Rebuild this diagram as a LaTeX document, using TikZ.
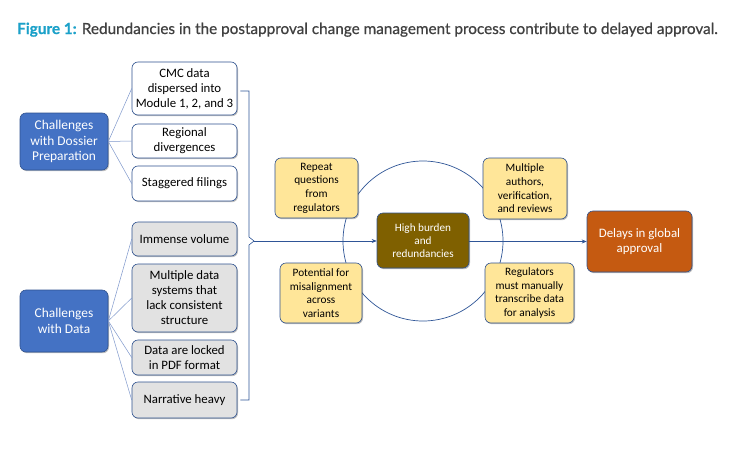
\documentclass[tikz,border=0pt]{standalone}
\usepackage{fontspec}
\setmainfont{Carlito}
\newfontfamily\titlefont[FakeBold=0.6]{Lato}
\usetikzlibrary{arrows.meta,shadows}
\definecolor{bluebox}{HTML}{4472C4}
\definecolor{blueedge}{HTML}{2F528F}
\definecolor{yellowbox}{HTML}{FFE699}
\definecolor{graybox}{HTML}{E2E2E2}
\definecolor{burden}{HTML}{7F6000}
\definecolor{delay}{HTML}{C55A11}
\definecolor{linkblue}{HTML}{7F98CC}
\definecolor{arrowblue}{HTML}{2F5597}
\definecolor{titlecyan}{HTML}{1BA1C9}
\definecolor{titlegray}{HTML}{404040}
\tikzset{
  bx/.style={draw=blueedge, line width=0.6pt, rounded corners=6pt, align=center, inner sep=1pt,
    drop shadow={shadow xshift=1pt, shadow yshift=-1.2pt, opacity=0.25, fill=black}},
  parentbox/.style={bx, fill=bluebox, text=white, font=\fontsize{13.4}{15.7}\selectfont, minimum width=88pt},
  whitebox/.style={bx, fill=white, font=\fontsize{12.8}{15}\selectfont, minimum width=105pt},
  greybox/.style={bx, fill=graybox, font=\fontsize{12.8}{15}\selectfont, minimum width=105pt},
  yelbox/.style={bx, fill=yellowbox, font=\fontsize{11.3}{13.7}\selectfont},
  link/.style={draw=linkblue, line width=0.5pt},
  flow/.style={draw=arrowblue, line width=0.6pt, -{Stealth[length=5pt,width=4pt]}},
}
\begin{document}
\begin{tikzpicture}[x=1pt,y=-1pt]
\useasboundingbox[fill=white] (0,0) rectangle (750,450);
\node[anchor=base west, inner sep=0, font=\titlefont\fontsize{15.3}{17}\selectfont] (title) at (17,34)
  {\textcolor{titlecyan}{\bfseries Figure 1:} \textcolor{titlegray}{Redundancies in the postapproval change management process contribute to delayed approval.}};

% circle
\node[draw=arrowblue, line width=0.7pt, circle, minimum size=160pt, inner sep=0] (ring) at (423,241) {};

% left parents
\node[parentbox, minimum height=57pt] (dos) at (64,141.5) {Challenges\\with Dossier\\Preparation};
\node[parentbox, minimum height=62pt] (dat) at (64,321) {Challenges\\with Data};

% children
\node[whitebox, minimum height=53pt] (c1) at (184.5,88.5) {CMC data\\dispersed into\\Module 1, 2, and 3};
\node[whitebox, minimum height=34pt] (c2) at (184.5,141) {Regional\\divergences};
\node[whitebox, minimum height=35pt] (c3) at (184.5,183.5) {Staggered filings};
\node[greybox, minimum height=34pt] (d1) at (184.5,239) {Immense volume};
\node[greybox, minimum height=68pt] (d2) at (184.5,298) {Multiple data\\systems that\\lack consistent\\structure};
\node[greybox, minimum height=35pt] (d3) at (184.5,357.5) {Data are locked\\in PDF format};
\node[greybox, minimum height=36pt] (d4) at (184.5,400) {Narrative heavy};

\foreach \c in {c1,c2,c3} \draw[link] (dos.east) -- (\c.west);
\foreach \c in {d1,d2,d3,d4} \draw[link] (dat.east) -- (\c.west);

% bracket
\coordinate (bk) at (254,241);
\draw[draw=arrowblue, line width=0.6pt, line join=miter]
  ([xshift=3pt,yshift=-2.5pt]c1.east) -- (249,91) -- (249,237) -- (bk) -- (249,245) -- (249,400) -- ([xshift=3pt]d4.east);

% yellow boxes
\node[yelbox, minimum width=83pt, minimum height=60pt] (y1) at (316.5,188) {Repeat\\questions\\from\\regulators};
\node[yelbox, minimum width=82pt, minimum height=60pt] (y2) at (321,293) {Potential for\\misalignment\\across\\variants};
\node[yelbox, minimum width=84pt, minimum height=61pt] (y3) at (525,188.5) {Multiple\\authors,\\verification,\\and reviews};
\node[yelbox, minimum width=89pt, minimum height=60pt] (y4) at (529.5,293) {Regulators\\must manually\\transcribe data\\for analysis};

% centre and result
\node[bx, fill=burden, text=white, minimum width=92pt, minimum height=55pt, font=\fontsize{11.2}{13}\selectfont] (hb) at (423,240.5) {High burden\\and\\redundancies};
\node[bx, fill=delay, text=white, minimum width=105pt, minimum height=61pt, font=\fontsize{12.9}{14.7}\selectfont] (dl) at (639.5,241.5) {Delays in global\\approval};

\draw[flow] (bk) -- (hb.west |- bk);
\draw[flow] (hb.east |- dl.west) -- (dl.west);
\end{tikzpicture}
\end{document}
